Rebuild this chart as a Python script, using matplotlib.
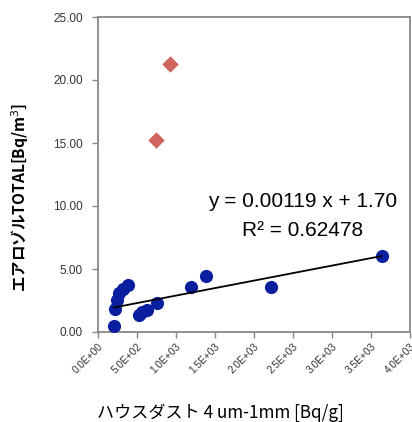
import matplotlib
matplotlib.use("Agg")
import matplotlib.pyplot as plt
import numpy as np

# Blue series (house dust vs aerosol total)
blue_x = [205, 218, 240, 273, 325, 389, 530, 560, 624, 761, 1192, 1385, 2218, 3635]
blue_y = [0.50, 1.83, 2.54, 3.07, 3.39, 3.73, 1.35, 1.61, 1.75, 2.27, 3.60, 4.47, 3.55, 6.05]
# Red outliers
red_x = [744, 923]
red_y = [15.24, 21.27]
# Trend line
slope = 0.00119
intercept = 1.70
eq_text = "y = 0.00119 x + 1.70"
r2_text = "R² = 0.62478"

xticks = np.arange(0, 4001, 500)
xtick_labels = ["0.0E+00", "5.0E+02", "1.0E+03", "1.5E+03", "2.0E+03",
                "2.5E+03", "3.0E+03", "3.5E+03", "4.0E+03"]
yticks = [0, 5, 10, 15, 20, 25]
ytick_labels = ["0.00", "5.00", "10.00", "15.00", "20.00", "25.00"]

W, H = 412, 422
fig = plt.figure(figsize=(W/100, H/100), dpi=100)
ax = fig.add_axes([98/W, 1-332/H, (410-98)/W, (332-17)/H])

ax.scatter(blue_x, blue_y, s=90, color="#0A1EA0", zorder=3, linewidths=0)
ax.scatter(red_x, red_y, s=70, marker="D", color="#D0645C", zorder=3, linewidths=0)
lx = np.array([min(blue_x), max(blue_x)])
ax.plot(lx, slope*lx + intercept, color="black", lw=1.3, zorder=4)

ax.set_xlim(0, 4000)
ax.set_ylim(0, 25)
ax.set_xticks(xticks)
ax.set_xticklabels(xtick_labels, rotation=45, ha="right", rotation_mode="anchor",
                   fontsize=7.3, color="#333333", family="Liberation Sans")
ax.set_yticks(yticks)
ax.set_yticklabels(ytick_labels, fontsize=8.5, color="#333333", family="Liberation Sans")
ax.tick_params(axis="both", direction="out", length=4, color="#888888", width=1)
ax.tick_params(axis="x", pad=3)
ax.tick_params(axis="y", pad=7)
for sp in ax.spines.values():
    sp.set_color("#888888")
    sp.set_linewidth(1.3)

ax.text(0.655, 0.415, eq_text, transform=ax.transAxes, ha="center", va="center",
        fontsize=15, family="Liberation Sans")
ax.text(0.655, 0.322, r2_text, transform=ax.transAxes, ha="center", va="center",
        fontsize=15, family="Liberation Sans")

fig.text(97/W, 1-413/H, "ハウスダスト 4 um-1mm [Bq/g]", ha="left", va="center",
         fontsize=12.3, family=["Noto Sans CJK JP", "DejaVu Sans"])
fig.text(20/W, 1-197/H, "エアロゾルTOTAL[Bq/m$^3$]", ha="center", va="center",
         rotation=90, fontsize=11.2, fontweight="bold",
         family=["Noto Sans CJK JP", "DejaVu Sans"])

fig.savefig("out.png", dpi=100)
